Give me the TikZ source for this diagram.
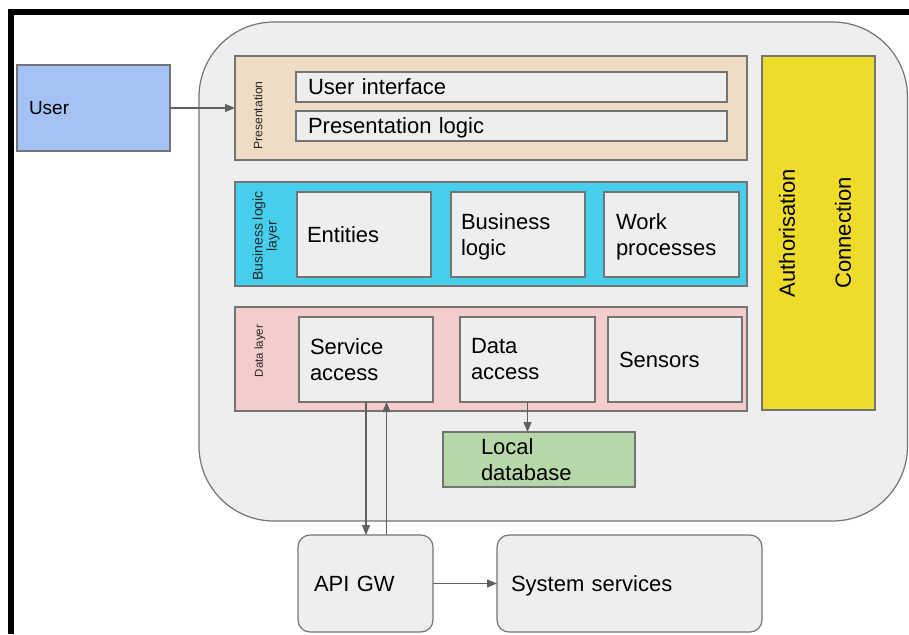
\documentclass[tikz,border=0pt]{standalone}
\usepackage{fontspec}
\setmainfont{Liberation Sans}
\usetikzlibrary{arrows.meta}

\definecolor{panel}{HTML}{EEEEEE}
\definecolor{edge}{HTML}{747474}
\definecolor{userblue}{HTML}{A4C2F4}
\definecolor{presfill}{HTML}{EFDCC5}
\definecolor{bizfill}{HTML}{45CFEC}
\definecolor{datafill}{HTML}{F4CCCC}
\definecolor{authfill}{HTML}{EFDC2A}
\definecolor{dbfill}{HTML}{B6D7A8}
\definecolor{wire}{HTML}{616161}

\newcommand\mainsize{\fontsize{22}{26}\selectfont}
% last line of a box: descenders do not count when centring
\newcommand\lastline[1]{\smash{#1}}

\begin{document}
\begin{tikzpicture}[x=1pt,y=-1pt,
  every node/.style={inner sep=0pt, outer sep=0pt},
  outline/.style={draw=edge, line width=1.2pt},
  layer/.style={outline, anchor=north west},
  item/.style={outline, fill=panel, anchor=north west, align=left, font=\mainsize},
  oneline/.style={text depth=0pt},
  dims/.style n args={4}{minimum width=#1, minimum height=#2, inner xsep=#3, text width=#4},
  tag/.style={rotate=90, align=center, text=black!85},
  flow/.style={draw=wire, line width=1.2pt, -{Triangle[length=10pt,width=8pt]}}
]
\useasboundingbox (0,0) rectangle (909,634);

% heavy black frame along the top and left edges
\fill[black] (8,9) rectangle (14,634);
\fill[black] (8,9) rectangle (909,15);

% application container
\node[outline, fill=panel, anchor=north west, minimum width=708.5, minimum height=499,
      rounded corners=75pt] (device) at (199,22) {};

% user
\node[item, oneline, fill=userblue, dims={153}{86}{12}{129}, font=\fontsize{19}{23}\selectfont]
  (user) at (17,65) {User};

% presentation layer
\node[layer, fill=presfill, minimum width=512, minimum height=104] (pres) at (235,56) {};
\node[tag, font=\fontsize{12.2}{14}\selectfont] (preslabel) at (258,115.5) {Presentation};
\node[item, oneline, dims={431}{30}{12}{407}] (ui) at (296,72) {User interface};
\node[item, oneline, dims={431}{30}{12}{407}] (plogic) at (296,111) {Presentation logic};

% business logic layer
\node[layer, fill=bizfill, minimum width=512, minimum height=104] (biz) at (235,182) {};
\node[tag, font=\fontsize{14}{14}\selectfont] (bizlabel) at (266,236) {Business logic\\layer};
\node[item, oneline, dims={134}{85}{10}{114}] (ent) at (297,192) {Entities};
\node[item, dims={134}{85}{10}{114}] (blogic) at (451,192) {Business\\\lastline{logic}};
\node[item, dims={135}{85}{12}{111}] (work) at (604,192) {Work\\\lastline{processes}};

% data layer
\node[layer, fill=datafill, minimum width=512, minimum height=104] (data) at (235,307) {};
\node[tag, font=\fontsize{11.5}{14}\selectfont] (datalabel) at (260,351) {Data layer};
\node[item, dims={134}{85}{11}{112}] (sa) at (299,317) {Service\\access};
\node[item, dims={135}{85}{11}{113}] (da) at (460,317) {Data\\access};
\node[item, oneline, dims={134}{85}{11}{112}] (sensors) at (608,317) {Sensors};

% local storage
\node[item, fill=dbfill, dims={192}{55}{38}{116}] (db) at (443,432) {Local\\database};

% cross-cutting concerns
\node[outline, fill=authfill, rotate=90, minimum width=354, minimum height=113,
      align=center, text depth=7pt, font=\fontsize{22}{56}\selectfont]
  (auth) at (818.5,233) {Authorisation\\Connection};

% backend
\node[item, oneline, rounded corners=12pt, dims={135}{97}{16}{103}] (api) at (298,535) {API GW};
\node[item, oneline, rounded corners=12pt, dims={265}{97}{14}{237}] (sys) at (497,535) {System services};

% connectors
\draw[flow] (user.east) -- (pres.west);
\draw[flow] (da.south) -- (da.south |- db.north);
\draw[flow] (sa.south) -- (sa.south |- api.north);
\draw[flow] ([xshift=21pt]api.north) -- ([xshift=21pt]api.north |- sa.south);
\draw[flow] (api.east) -- (sys.west);
\end{tikzpicture}
\end{document}
